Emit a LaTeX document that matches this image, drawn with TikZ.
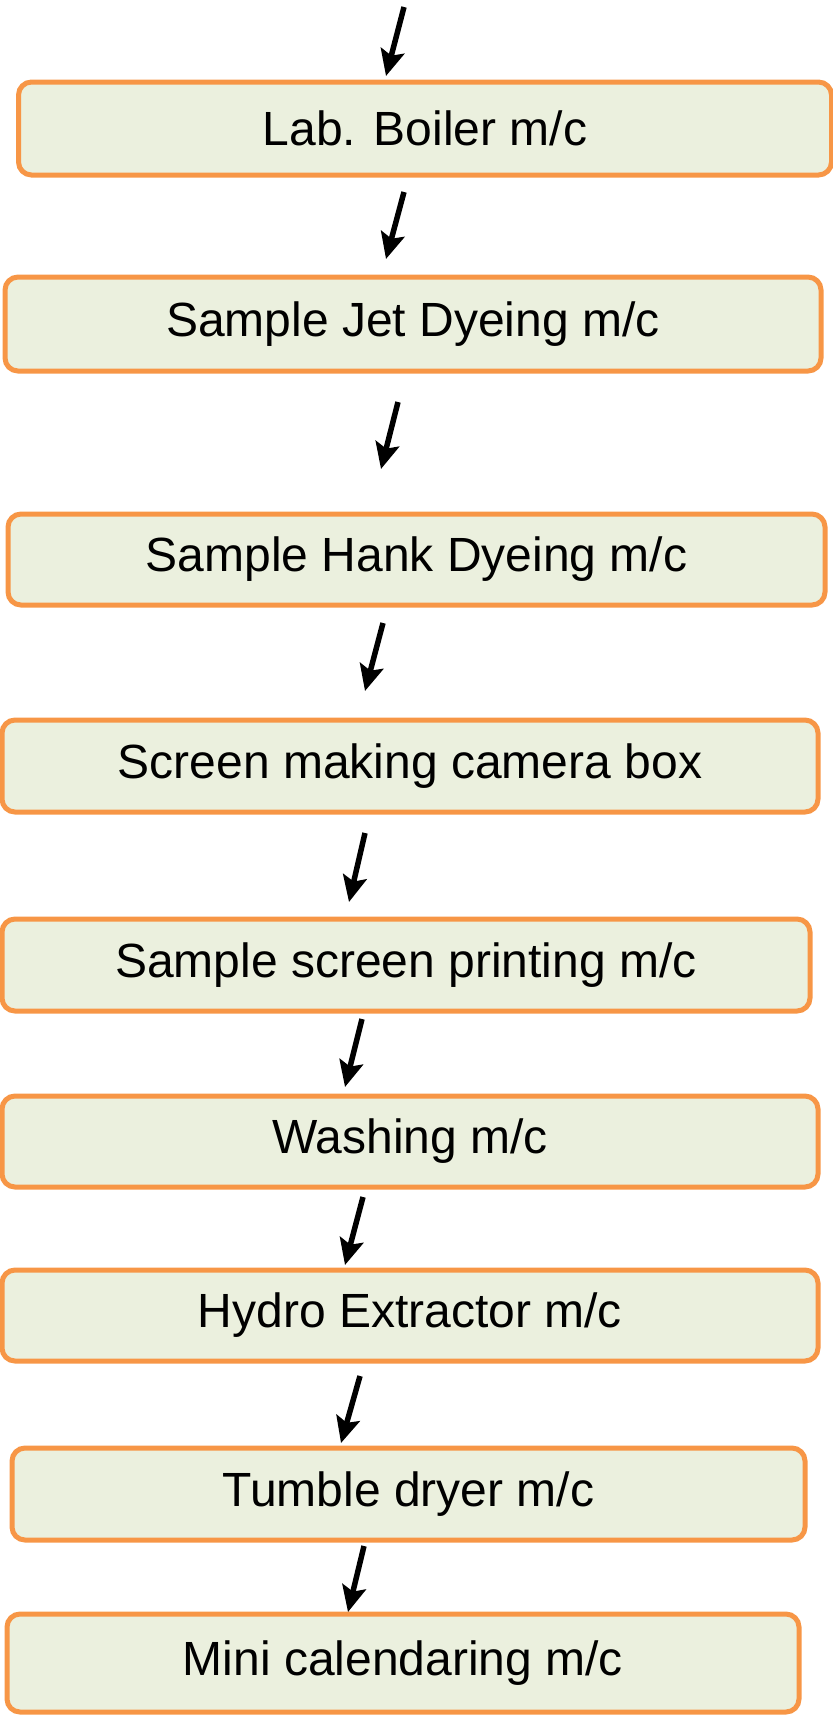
\documentclass[tikz,border=0pt]{standalone}
\usepackage{fontspec}
\setmainfont{Liberation Sans}
\usetikzlibrary{arrows.meta}
\definecolor{boxfill}{HTML}{EBF0DE}
\definecolor{boxline}{HTML}{F79646}
\begin{document}
\begin{tikzpicture}[x=1pt,y=-1pt,
  stepbox/.style={draw=boxline,fill=boxfill,line width=5pt,rounded corners=13pt,
    inner sep=0pt,font=\fontsize{48}{56}\selectfont,text=black},
  flow/.style={line width=5.5pt,-{Stealth[length=26pt,width=24pt,inset=5pt]}}]
\useasboundingbox (0,0) rectangle (833,1717);
\node[stepbox,minimum width=813pt,minimum height=93pt] (b1) at (425,128.5) {Lab. Boiler m/c};
\node[stepbox,minimum width=816pt,minimum height=94pt] (b2) at (413,324) {Sample Jet Dyeing m/c};
\node[stepbox,minimum width=817pt,minimum height=91pt] (b3) at (416.5,559.5) {Sample Hank Dyeing m/c};
\node[stepbox,minimum width=816pt,minimum height=92pt] (b4) at (410,766) {Screen making camera box};
\node[stepbox,minimum width=808pt,minimum height=92pt] (b5) at (406,965) {Sample screen printing m/c};
\node[stepbox,minimum width=816pt,minimum height=91pt] (b6) at (410,1141.5) {Washing m/c};
\node[stepbox,minimum width=816pt,minimum height=91pt] (b7) at (410,1315.5) {Hydro Extractor m/c};
\node[stepbox,minimum width=793pt,minimum height=92pt] (b8) at (408.5,1494) {Tumble dryer m/c};
\node[stepbox,minimum width=792pt,minimum height=98pt] (b9) at (403,1663) {Mini calendaring m/c};
% arrow end points
\coordinate (s0) at (404,7);    \coordinate (t0) at (386,76);
\coordinate (s1) at (404,192);  \coordinate (t1) at (386,259);
\coordinate (s2) at (398,402);  \coordinate (t2) at (381,469);
\coordinate (s3) at (383,623);  \coordinate (t3) at (365,691);
\coordinate (s4) at (365,833);  \coordinate (t4) at (349,902);
\coordinate (s5) at (362,1019); \coordinate (t5) at (345,1087);
\coordinate (s6) at (363,1197); \coordinate (t6) at (345,1265);
\coordinate (s7) at (360,1376); \coordinate (t7) at (341,1443);
\coordinate (s8) at (364,1546); \coordinate (t8) at (348,1612);
\foreach \i in {0,...,8} {\draw[flow] (s\i) -- (t\i);}
\end{tikzpicture}
\end{document}
